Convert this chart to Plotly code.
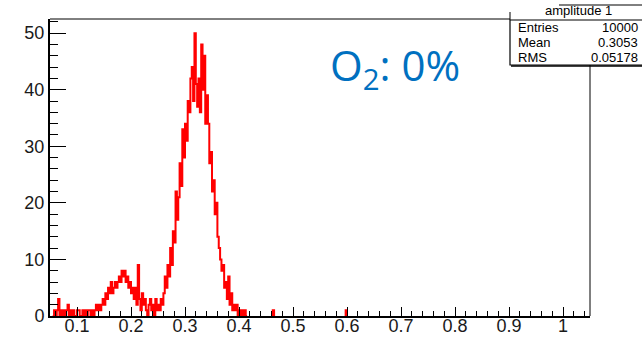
import numpy as np
import plotly.graph_objects as go

# ---------------- data ----------------
bin_width = 0.0025
hist_lo, hist_hi = 0.05, 1.05
x_start = 0.055
counts = [
    0, 1, 0, 1, 3, 0, 1, 0, 1, 0, 1, 2, 0, 1, 0, 1, 0, 0, 1, 1,
    0, 0, 1, 0, 1, 0, 1, 1, 0, 1, 0, 1, 2, 1, 2, 1, 2, 3, 2, 4,
    3, 5, 4, 6, 4, 5, 6, 5, 6, 7, 6, 8, 7, 8, 6, 7, 5, 6, 4, 5,
    3, 5, 2, 9, 3, 1, 4, 2, 3, 1, 0, 2, 3, 1, 2, 0, 3, 1, 2, 1,
    3, 2, 4, 7, 5, 9, 7, 12, 9, 15, 13, 22, 17, 21, 27, 23, 33, 28, 34, 31,
    38, 36, 42, 44, 38, 50, 41, 37, 42, 36, 48, 40, 46, 34, 39, 34, 27, 29, 22, 24,
    18, 20, 14, 12, 10, 8, 9, 5, 6, 3, 7, 2, 4, 1, 2, 1, 2, 0, 1, 0,
    1, 0, 1, 0,
]
iso_x = [0.4625, 0.5975]
iso_counts = [1, 1]

x_tick_vals = [0.1, 0.2, 0.3, 0.4, 0.5, 0.6, 0.7, 0.8, 0.9, 1.0]
x_tick_text = ["0.1", "0.2", "0.3", "0.4", "0.5", "0.6", "0.7", "0.8", "0.9", "1"]
y_tick_vals = [0, 10, 20, 30, 40, 50]
y_tick_text = ["0", "10", "20", "30", "40", "50"]

stats_title = "amplitude 1"
stats_names = ["Entries", "Mean", "RMS"]
stats_values = ["10000", "0.3053", "0.05178"]
label_text = "O<sub>2</sub>: 0%"

# ---------------- build histogram step lines ----------------
edges = x_start + bin_width * np.arange(len(counts) + 1)
step_y = list(counts) + [counts[-1]]

fig = go.Figure()
fig.add_trace(go.Scatter(
    x=edges, y=step_y, mode="lines", line_shape="hv",
    line=dict(color="#ff0000", width=2), hoverinfo="skip", showlegend=False,
))
for xv, c in zip(iso_x, iso_counts):
    fig.add_trace(go.Scatter(
        x=[xv, xv, xv + bin_width, xv + bin_width], y=[0, c, c, 0],
        mode="lines", line=dict(color="#ff0000", width=2),
        hoverinfo="skip", showlegend=False,
    ))

# ---------------- geometry helpers (pixel -> paper) ----------------
W, H = 642, 338
L, R, T, B = 50, 590, 19, 316
def px(x):
    return (x - L) / (R - L)
def py(y):
    return (B - y) / (B - T)

tickfont = dict(family="Liberation Sans, Arial", size=18, color="#1a1a1a")
fig.update_layout(
    width=W, height=H,
    margin=dict(l=L, r=W - R, t=T, b=H - B, pad=0, autoexpand=False),
    paper_bgcolor="white", plot_bgcolor="white",
    showlegend=False,
    xaxis=dict(
        range=[hist_lo, hist_hi], showgrid=False, zeroline=False, automargin=False,
        showline=True, linecolor="black", linewidth=2, layer="above traces",
        tickvals=x_tick_vals, ticktext=x_tick_text, ticks="inside",
        ticklen=9, tickwidth=1, tickcolor="black", tickfont=tickfont,
        ticklabelstandoff=-8,
        minor=dict(dtick=0.02, tick0=0, ticks="inside", ticklen=5,
                   tickwidth=1, tickcolor="black", showgrid=False),
    ),
    yaxis=dict(
        range=[0, 52.5], showgrid=False, zeroline=False, automargin=False,
        showline=True, linecolor="black", linewidth=2, layer="above traces",
        tickvals=y_tick_vals, ticktext=y_tick_text, ticks="inside",
        ticklen=16, tickwidth=1, tickcolor="black", tickfont=tickfont,
        minor=dict(dtick=2, tick0=0, ticks="inside", ticklen=8,
                   tickwidth=1, tickcolor="black", showgrid=False),
    ),
)

shapes = []
# frame top and right
shapes.append(dict(type="line", xref="paper", yref="paper",
                   x0=0, x1=px(510), y0=1, y1=1, line=dict(color="black", width=1)))
shapes.append(dict(type="line", xref="paper", yref="paper",
                   x0=1, x1=1, y0=0, y1=py(65), line=dict(color="black", width=1)))
# stats box body
shapes.append(dict(type="rect", xref="paper", yref="paper",
                   x0=px(510), x1=px(646), y0=py(65), y1=py(20),
                   line=dict(color="black", width=1.2), fillcolor="white"))
shapes.append(dict(type="line", xref="paper", yref="paper",
                   x0=px(511), x1=px(646), y0=py(66), y1=py(66),
                   line=dict(color="black", width=1.5)))
# stats header
shapes.append(dict(type="line", xref="paper", yref="paper",
                   x0=px(559), x1=px(646), y0=py(5), y1=py(5),
                   line=dict(color="black", width=1)))
shapes.append(dict(type="line", xref="paper", yref="paper",
                   x0=px(510), x1=px(510), y0=py(20), y1=py(12),
                   line=dict(color="black", width=1)))
fig.update_layout(shapes=shapes)

ann = []
ann.append(dict(text=label_text, xref="paper", yref="paper", x=px(395), y=py(67),
                xanchor="center", yanchor="middle", showarrow=False,
                font=dict(family="Open Sans", size=42, color="#0070C0")))
ann.append(dict(text=stats_title, xref="paper", yref="paper", x=px(578), y=py(11),
                xanchor="center", yanchor="middle", showarrow=False,
                font=dict(family="Liberation Sans", size=13, color="black")))
rows_y = [28, 43, 58]
for name, val, yy in zip(stats_names, stats_values, rows_y):
    ann.append(dict(text=name, xref="paper", yref="paper", x=px(516), y=py(yy),
                    xanchor="left", yanchor="middle", showarrow=False,
                    font=dict(family="Liberation Sans", size=13, color="black")))
    ann.append(dict(text=val, xref="paper", yref="paper", x=px(640), y=py(yy),
                    xanchor="right", yanchor="middle", showarrow=False,
                    font=dict(family="Liberation Sans", size=13, color="black")))
fig.update_layout(annotations=ann)

fig.write_html("out.html", config={"displayModeBar": False},
               post_script="document.body.style.margin='0px';document.body.style.overflow='hidden';")
